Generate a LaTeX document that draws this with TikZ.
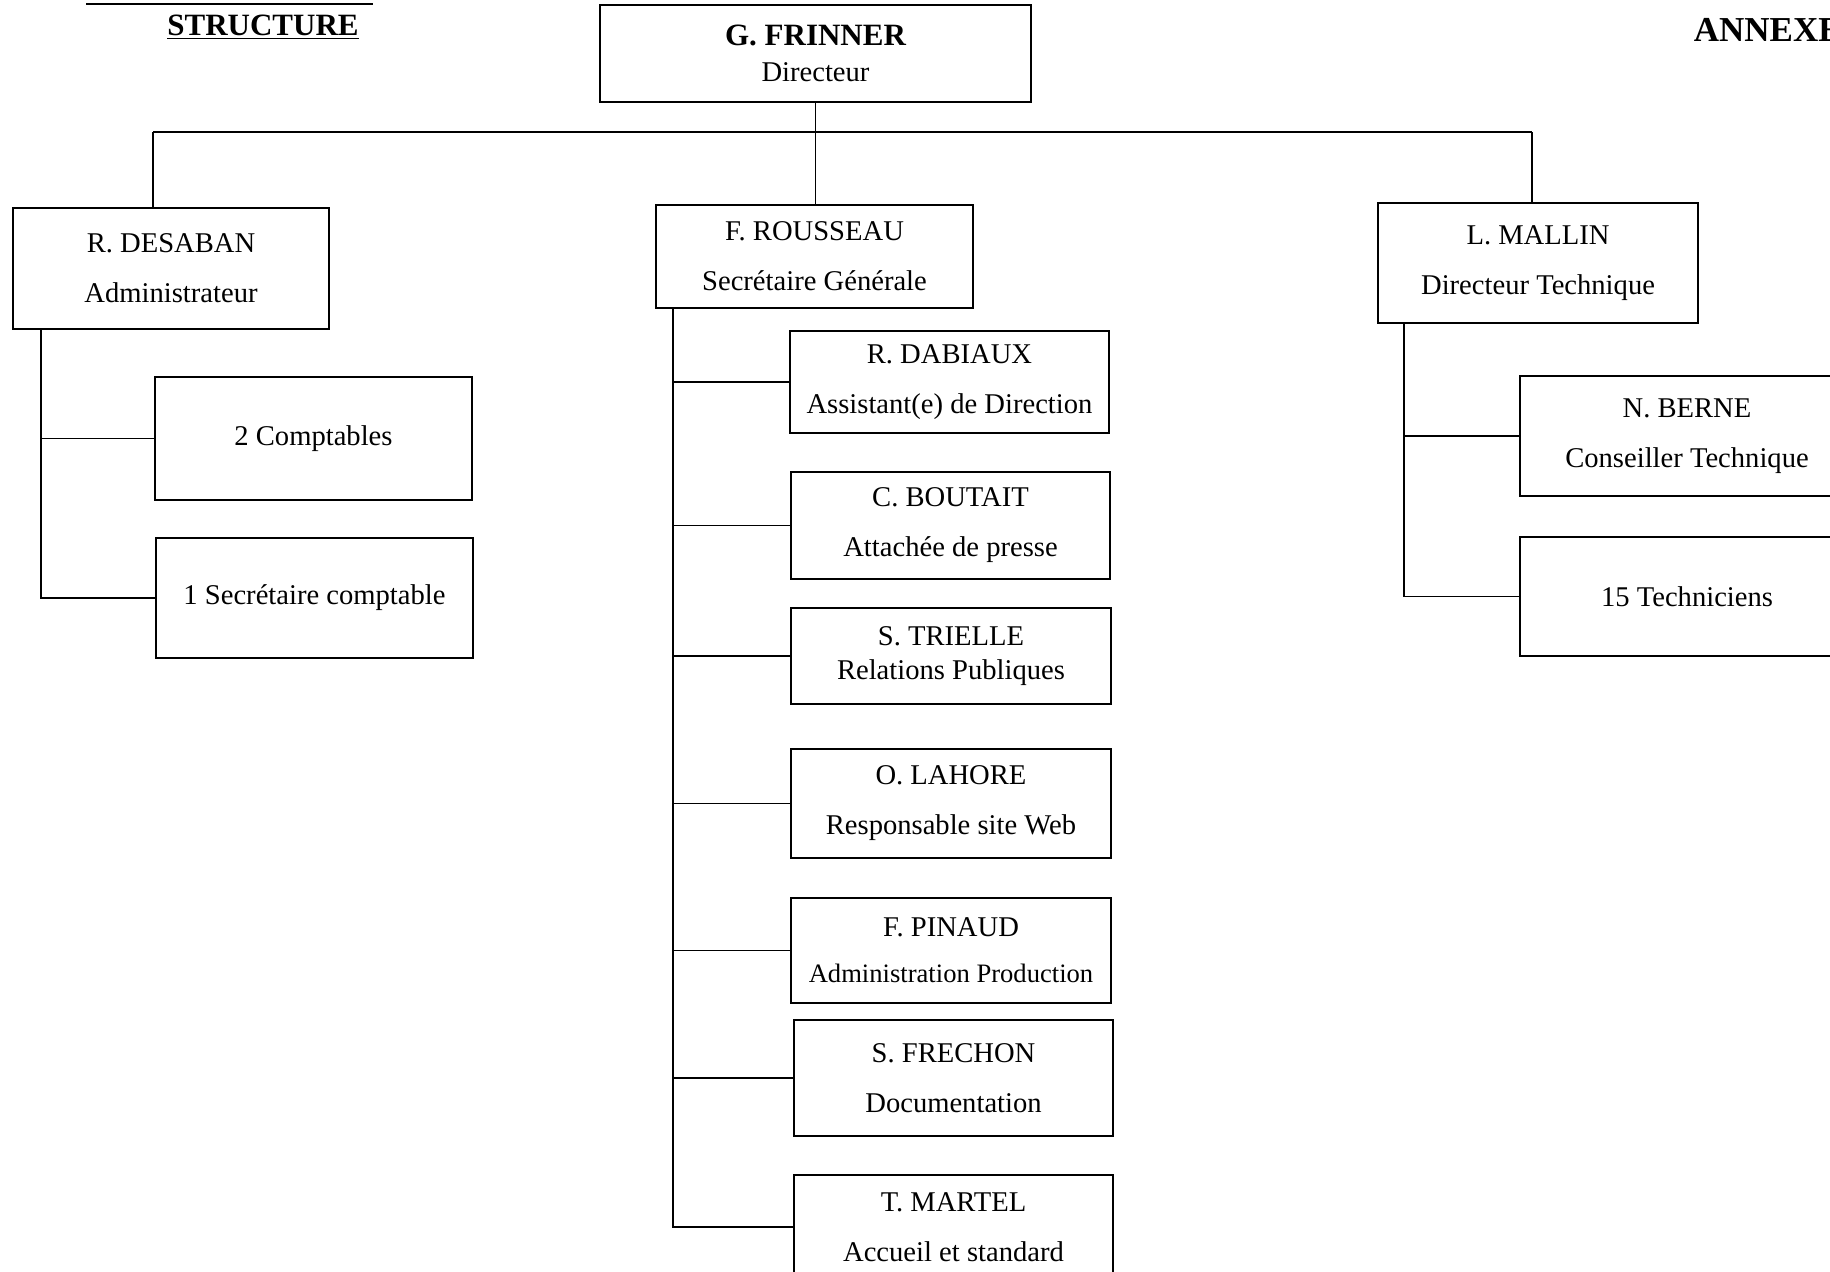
\documentclass[tikz,border=0pt]{standalone}
\usepackage{fontspec}
\setmainfont{Liberation Serif}
\usepackage{tikz}

\tikzset{
  poste/.style={draw, rectangle, inner sep=0pt, align=center,
    font=\fontsize{14.3}{17}\selectfont},
  titre/.style={font=\fontsize{15.5}{18}\selectfont\bfseries, inner sep=0pt}
}

\begin{document}
\begin{tikzpicture}[x=0.5pt, y=-0.5pt, line width=0.9pt]
\useasboundingbox (0,0) rectangle (1830,1271);
\clip (0,0) rectangle (1830,1271);

% Titles
\node[titre] (structure) at (263,27) {\underline{STRUCTURE}};
\node[titre, font=\fontsize{17.5}{20}\selectfont\bfseries, anchor=west] (annexe) at (1693,30) {ANNEXE};
\coordinate (ulA) at (86,4);
\coordinate (ulB) at (373,4);
\draw[line width=1.4pt] (ulA) -- (ulB);

% Nodes
\node[poste, minimum width=215.5pt, minimum height=48.5pt] (frinner) at (815.5,53.5) {{\fontsize{15.5}{18}\selectfont\bfseries G. FRINNER}\\[1pt] Directeur};
\node[poste, minimum width=158pt, minimum height=60.5pt] (desaban) at (171,268.5) {R. DESABAN\\[8pt] Administrateur};
\node[poste, minimum width=158.5pt, minimum height=51.5pt] (rousseau) at (814.5,256.5) {F. ROUSSEAU\\[8pt] Secrétaire Générale};
\node[poste, minimum width=160pt, minimum height=60pt] (mallin) at (1538,263) {L. MALLIN\\[8pt] Directeur Technique};

\node[poste, minimum width=158.5pt, minimum height=61.5pt] (comptables) at (313.5,438.5) {2 Comptables};
\node[poste, minimum width=158.5pt, minimum height=60pt] (secr) at (314.5,598) {1 Secrétaire comptable};

\node[poste, minimum width=159.5pt, minimum height=51pt] (dabiaux) at (949.5,382) {R. DABIAUX\\[8pt] Assistant(e) de Direction};
\node[poste, minimum width=159.5pt, minimum height=53.5pt] (boutait) at (950.5,525.5) {C. BOUTAIT\\[8pt] Attachée de presse};
\node[poste, minimum width=160pt, minimum height=48pt] (trielle) at (951,656) {S. TRIELLE\\ Relations Publiques};
\node[poste, minimum width=160pt, minimum height=54.5pt] (lahore) at (951,803.5) {O. LAHORE\\[8pt] Responsable site Web};
\node[poste, minimum width=160pt, minimum height=52.5pt] (pinaud) at (951,950.5) {F. PINAUD\\[6pt] {\fontsize{13.3}{17}\selectfont Administration Production}};
\node[poste, minimum width=159.5pt, minimum height=58pt] (frechon) at (953.5,1078) {S. FRECHON\\[8pt] Documentation};
\node[poste, minimum width=159.5pt, minimum height=52pt] (martel) at (953.5,1227) {T. MARTEL\\[8pt] Accueil et standard};

\node[poste, minimum width=167pt, minimum height=60pt] (berne) at (1687,436) {N. BERNE\\[8pt] Conseiller Technique};
\node[poste, minimum width=167pt, minimum height=59.5pt] (techniciens) at (1687,596.5) {15 Techniciens};

% Edges
\coordinate (busL) at (153,132);
\coordinate (busR) at (1532,132);
\draw (busL) -- (busR);
\draw (busL) -- (busL |- desaban.north);
\draw (busR) -- (busR |- mallin.north);
\draw (frinner.south) -- (frinner.south |- rousseau.north);

\coordinate (dspine) at (41,0);
\draw (dspine |- desaban.south) |- (secr.west);
\draw (dspine |- comptables.west) -- (comptables.west);

\coordinate (rspine) at (673,0);
\draw (rspine |- rousseau.south) |- (martel.west);
\draw (rspine |- dabiaux.west) -- (dabiaux.west);
\draw (rspine |- boutait.west) -- (boutait.west);
\draw (rspine |- trielle.west) -- (trielle.west);
\draw (rspine |- lahore.west) -- (lahore.west);
\draw (rspine |- pinaud.west) -- (pinaud.west);
\draw (rspine |- frechon.west) -- (frechon.west);

\coordinate (mspine) at (1404,0);
\draw (mspine |- mallin.south) |- (techniciens.west);
\draw (mspine |- berne.west) -- (berne.west);
\end{tikzpicture}
\end{document}
